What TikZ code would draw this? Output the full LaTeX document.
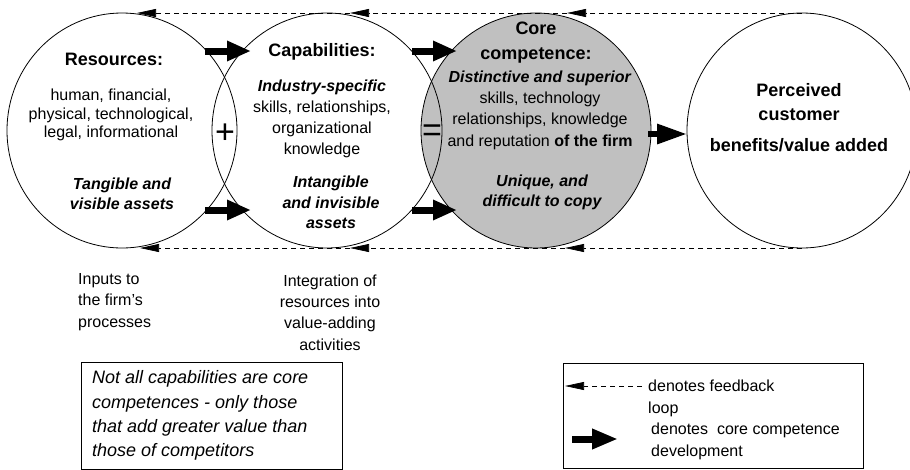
\documentclass[tikz,border=0pt]{standalone}
\usepackage{fontspec}
\setmainfont{Liberation Sans}
\usetikzlibrary{shapes.geometric,arrows.meta}
\definecolor{coregray}{RGB}{192,192,192}
\begin{document}
\begin{tikzpicture}[x=1pt,y=-1pt,
  bigc/.style={ellipse, draw, line width=0.8pt, minimum width=230pt, minimum height=235pt, inner sep=0pt},
  fbarrow/.style={dash pattern=on 5pt off 4pt, line width=0.7pt, -{Triangle[length=19pt,width=8pt]}},
  devarrow/.style={line width=7pt, -{Triangle[length=24pt,width=19pt]}},
  ttl/.style={font=\fontsize{18}{24}\selectfont\bfseries, align=center, inner sep=0pt},
  bodytxt/.style={font=\fontsize{16}{21}\selectfont, align=center, inner sep=0pt},
  bitxt/.style={font=\fontsize{16}{20.5}\selectfont\bfseries\itshape, align=center, inner sep=0pt},
  signtxt/.style={font=\fontsize{34}{34}\selectfont, inner sep=0pt},
  boxframe/.style={draw, line width=0.8pt, inner sep=0pt, anchor=north west},
]
\useasboundingbox (0,0) rectangle (910,469);

% circles
\node[bigc, fill=coregray] (core) at (536,130.5) {};
\node[bigc] (res) at (122,130.5) {};
\node[bigc] (cap) at (327,130.5) {};
\node[bigc] (perc) at (802,130.5) {};

% feedback loops
\coordinate (ft3) at (567,13);
\coordinate (ft2) at (350,13);
\coordinate (ft1) at (137,13);
\coordinate (fb3) at (565,248);
\coordinate (fb2) at (350,248);
\coordinate (fb1) at (140,248);
\draw[fbarrow] (ft3 -| perc.north) -- (ft3);
\draw[fbarrow] (ft3) -- (ft2);
\draw[fbarrow] (ft2) -- (ft1);
\draw[fbarrow] (fb3 -| perc.south) -- (fb3);
\draw[fbarrow] (fb3) -- (fb2);
\draw[fbarrow] (fb2) -- (fb1);

% development arrows
\coordinate (d1a) at (205,51);
\coordinate (d1b) at (251,51);
\coordinate (d2a) at (205,210);
\coordinate (d2b) at (251,210);
\coordinate (d3a) at (412,51);
\coordinate (d3b) at (457,51);
\coordinate (d4a) at (412,210);
\coordinate (d4b) at (457,210);
\coordinate (d5a) at (648,134);
\coordinate (d5b) at (687,134);
\draw[devarrow] (d1a) -- (d1b);
\draw[devarrow] (d2a) -- (d2b);
\draw[devarrow] (d3a) -- (d3b);
\draw[devarrow] (d4a) -- (d4b);
\draw[line width=6pt, -{Triangle[length=30pt,width=19pt]}] (d5a) -- (d5b);

% signs
\node[signtxt] (plus) at (225,134) {+};
\node[signtxt] (eq) at (432,133) {=};

% Resources text
\node[ttl] (restitle) at (114,59) {Resources:};
\node[bodytxt, font=\fontsize{16}{18.3}\selectfont] (resbody) at (111,115) {human, financial,\\physical, technological,\\legal, informational};
\node[bitxt, font=\fontsize{16}{20}\selectfont\bfseries\itshape] (restang) at (122,193.5) {Tangible and\\visible assets};

% Capabilities text
\node[ttl] (captitle) at (322,52) {Capabilities:};
\node[bodytxt] (capbody) at (322,119) {\textbf{\textit{Industry-specific}}\\skills, relationships,\\organizational\\knowledge};
\node[bitxt] (capint) at (331,202.5) {Intangible\\and invisible\\assets};

% Core competence text
\node[ttl, font=\fontsize{18}{25}\selectfont\bfseries] (coretitle) at (536,43) {Core\\competence:};
\node[bodytxt, font=\fontsize{16}{21.3}\selectfont] (corebody) at (540,110) {\textbf{\textit{Distinctive and superior}}\\skills, technology\\relationships, knowledge\\and reputation \textbf{of the firm}};
\node[bitxt] (coreuniq) at (542,192.5) {Unique, and\\difficult to copy};

% Perceived text
\node[ttl] (perctitle) at (799,102) {Perceived\\customer};
\node[ttl] (percben) at (799,145.5) {benefits/value added};

% lower labels
\node[bodytxt, align=left, anchor=west, font=\fontsize{16}{21.5}\selectfont] (inputs) at (78,302) {Inputs to\\the firm’s\\processes};
\node[bodytxt, font=\fontsize{16}{21.3}\selectfont] (integ) at (330,312.5) {Integration of\\resources into\\value-adding\\activities};

% note box
\node[boxframe, minimum width=261pt, minimum height=107pt] (note) at (81,362) {};
\node[inner sep=0pt, anchor=west, align=left, font=\fontsize{18}{24.3}\selectfont\itshape] (notetxt) at (92,415.5) {Not all capabilities are core\\competences - only those\\that add greater value than\\those of competitors};

% legend box
\node[boxframe, minimum width=300pt, minimum height=105pt] (legend) at (563,363) {};
\coordinate (lf1) at (642,386);
\coordinate (lf2) at (565,386);
\draw[fbarrow] (lf1) -- (lf2);
\coordinate (ld1) at (572,439);
\coordinate (ld2) at (618,439);
\draw[line width=7pt, -{Triangle[length=26pt,width=19pt]}] (ld1) -- (ld2);
\node[bodytxt, align=left, anchor=west, font=\fontsize{16}{22}\selectfont] (legfb) at (648,398.5) {denotes feedback\\loop};
\node[bodytxt, align=left, anchor=west, font=\fontsize{16}{22}\selectfont] (legdev) at (651,441) {denotes\ \ core competence\\development};
\end{tikzpicture}
\end{document}
